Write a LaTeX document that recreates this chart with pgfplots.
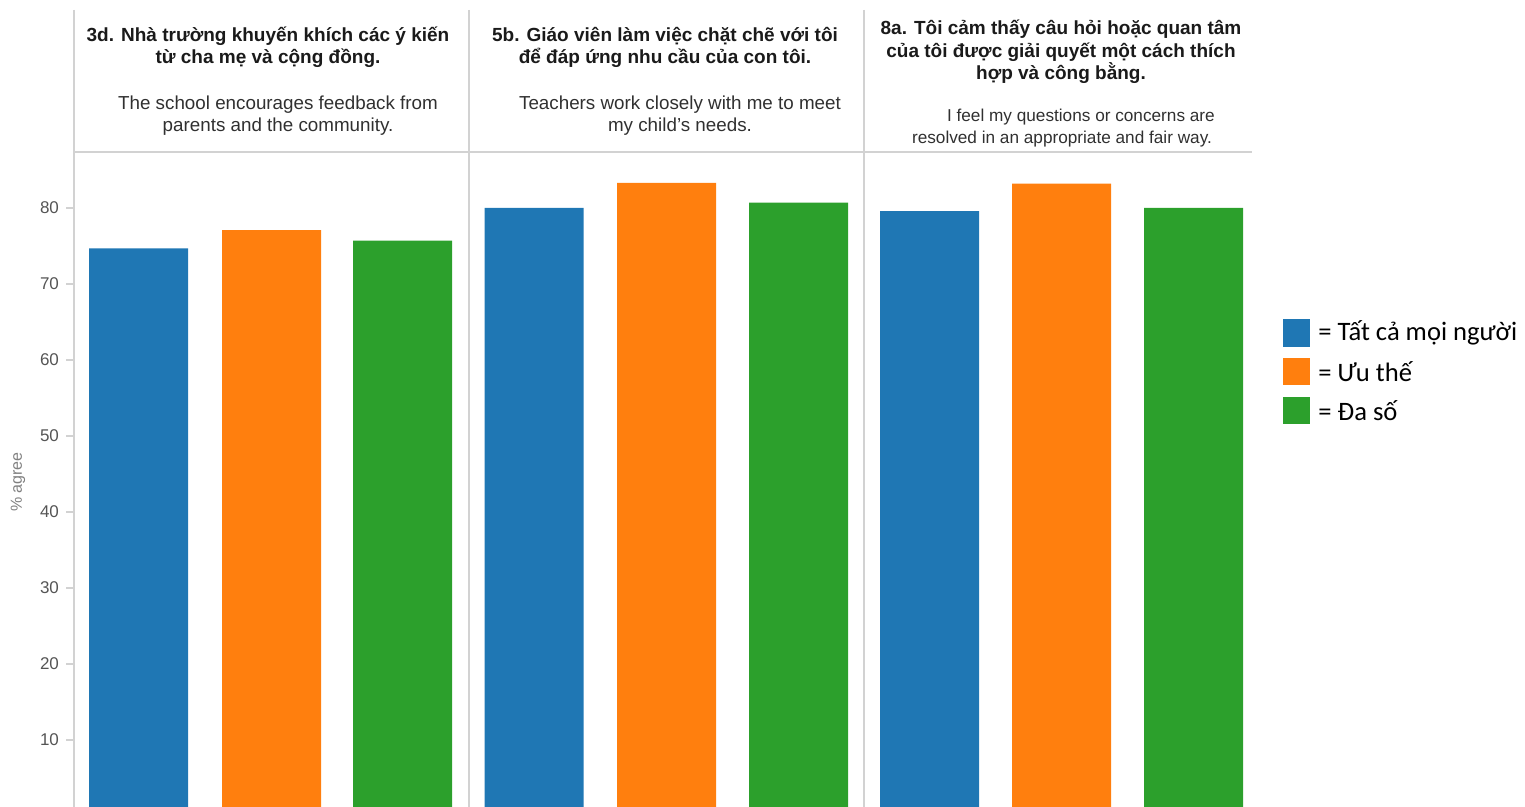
\documentclass[border=0pt]{standalone}
\usepackage{pgfplots}
\pgfplotsset{compat=1.18}
\usepackage{fontspec}
\setmainfont{Liberation Sans}
\newfontfamily\legfont{Carlito}
\definecolor{cblue}{HTML}{1F77B4}
\definecolor{corange}{HTML}{FF7F0E}
\definecolor{cgreen}{HTML}{2CA02C}
\definecolor{linec}{HTML}{D2D2D2}
\definecolor{tickc}{HTML}{555555}
\definecolor{boldc}{HTML}{1A1A1A}
\definecolor{engc}{HTML}{303030}
\begin{document}
\begin{tikzpicture}
\useasboundingbox (0,0) rectangle (762.5pt,403.5pt);
\begin{axis}[
  at={(37pt,0pt)}, anchor=south west,
  scale only axis, width=589pt, height=327.5pt,
  xmin=74, xmax=1252, ymin=1.18, ymax=87.37,
  axis x line=none, axis y line*=left,
  y axis line style={draw=linec, line width=0.6pt},
  ytick={10,20,...,80},
  tick align=outside, major tick length=4pt,
  ytick style={draw=linec, line width=0.6pt},
  yticklabel style={font=\fontsize{8.5}{10}\selectfont, text=tickc},
  /pgf/number format/assume math mode=true,
  clip=false,
]
\addplot[ybar, bar shift=0pt, bar width=99, fill=cblue, draw=none]
  coordinates {(138.5,74.7) (534,80.0) (929.5,79.6)};
\addplot[ybar, bar shift=0pt, bar width=99, fill=corange, draw=none]
  coordinates {(271.5,77.1) (666.5,83.3) (1061.5,83.2)};
\addplot[ybar, bar shift=0pt, bar width=99, fill=cgreen, draw=none]
  coordinates {(402.5,75.7) (798.5,80.7) (1193.5,80.0)};
\end{axis}
\begin{scope}[shift={(0pt,403.5pt)}, x=0.5pt, y=-0.5pt]
  % frame lines
  \draw[linec, line width=0.6pt] (74,10) -- (74,152);
  \draw[linec, line width=0.6pt] (469,10) -- (469,807);
  \draw[linec, line width=0.6pt] (864,10) -- (864,807);
  \draw[linec, line width=0.6pt] (74,152) -- (1252,152);
  % y label
  \node[rotate=90, text=gray, font=\fontsize{8}{9}\selectfont] at (18,482) {\% agree};
  % headers
  \node[align=center, text=boldc, font=\bfseries\fontsize{9.5}{11}\selectfont] at (268,47)
    {3d. Nhà trường khuyến khích các ý kiến\\từ cha mẹ và cộng đồng.};
  \node[align=center, text=engc, font=\fontsize{9.4}{11}\selectfont] at (278,116)
    {The school encourages feedback from\\parents and the community.};
  \node[align=center, text=boldc, font=\bfseries\fontsize{9.5}{11}\selectfont] at (665,47)
    {5b. Giáo viên làm việc chặt chẽ với tôi\\để đáp ứng nhu cầu của con tôi.};
  \node[align=center, text=engc, font=\fontsize{9.4}{11}\selectfont] at (680,116)
    {Teachers work closely with me to meet\\my child's needs.};
  \node[align=center, text=boldc, font=\bfseries\fontsize{9.5}{11.3}\selectfont] at (1061,52)
    {8a. Tôi cảm thấy câu hỏi hoặc quan tâm\\của tôi được giải quyết một cách thích\\hợp và công bằng.};
  \node[align=center, text=engc, font=\fontsize{8.6}{11}\selectfont] at (1062,128)
    {\hspace*{2.2em}I feel my questions or concerns are\\resolved in an appropriate and fair way.};
  % legend
  \fill[cblue] (1283,319) rectangle (1310,347);
  \fill[corange] (1283,358) rectangle (1310,385);
  \fill[cgreen] (1283,397) rectangle (1310,424);
  \node[anchor=west, inner sep=0pt, font=\legfont\fontsize{13.3}{15}\selectfont] at (1318,333) {= Tất cả mọi người};
  \node[anchor=west, inner sep=0pt, font=\legfont\fontsize{13.3}{15}\selectfont] at (1318,372) {= Ưu thế};
  \node[anchor=west, inner sep=0pt, font=\legfont\fontsize{13.3}{15}\selectfont] at (1318,411) {= Đa số};
\end{scope}
\end{tikzpicture}
\end{document}
